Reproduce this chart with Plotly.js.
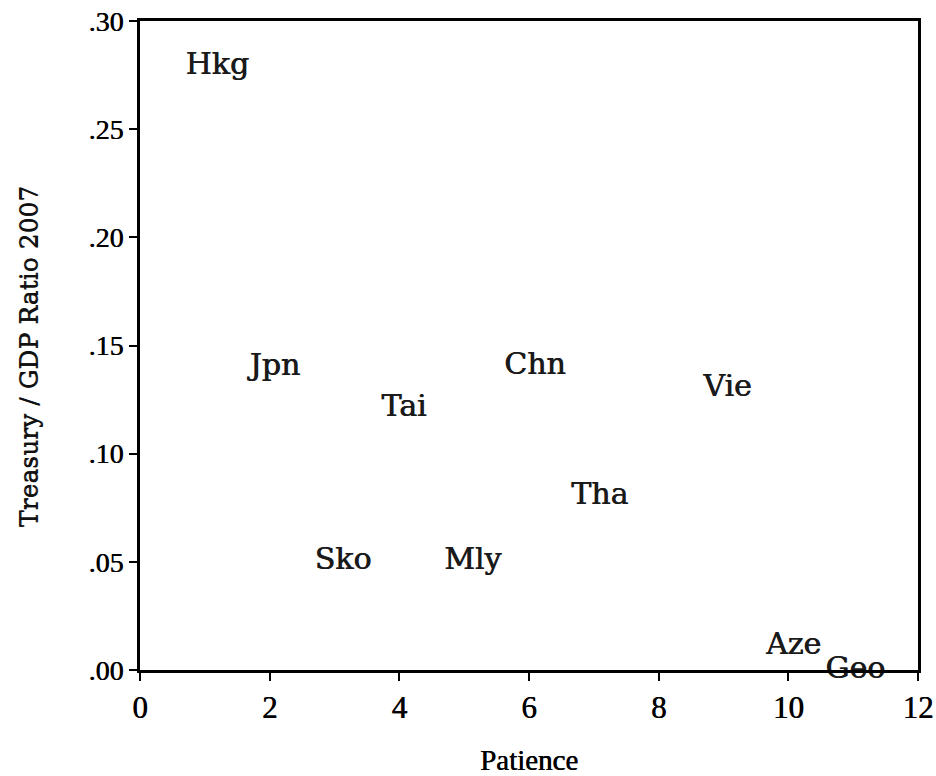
<!DOCTYPE html>
<html>
<head>
<meta charset="utf-8">
<script src="https://cdn.plot.ly/plotly-3.0.1.min.js"></script>
<style>html,body{margin:0;padding:0;background:#fff;}#chart{width:936px;height:776px;}</style>
</head>
<body>
<div id="chart"></div>
<script>
const countries = ["Hkg", "Jpn", "Tai", "Chn", "Vie", "Tha", "Sko", "Mly", "Aze", "Geo"];
const patience = [1.19, 2.08, 4.07, 6.09, 9.06, 7.09, 3.13, 5.13, 10.08, 11.03];
const treasuryGdp = [0.279, 0.140, 0.121, 0.1405, 0.130, 0.080, 0.050, 0.050, 0.011, 0.000];
const xTicks = [0, 2, 4, 6, 8, 10, 12];
const xTickLabels = ["0", "2", "4", "6", "8", "10", "12"];
const yTicks = [0, 0.05, 0.10, 0.15, 0.20, 0.25, 0.30];
const yTickLabels = [".00", ".05", ".10", ".15", ".20", ".25", ".30"];
const xTitle = "Patience";
const yTitle = "Treasury / GDP Ratio 2007";

const trace = {
  x: patience,
  y: treasuryGdp,
  text: countries,
  mode: "text",
  type: "scatter",
  textposition: "middle center",
  textfont: {family: "DejaVu Serif", size: 30, color: "#1a1a1a", shadow: "0.7px 0 0 #1a1a1a"},
  cliponaxis: false,
  hoverinfo: "none"
};

const layout = {
  width: 936,
  height: 776,
  margin: {l: 140, r: 18, t: 21, b: 106},
  paper_bgcolor: "#ffffff",
  plot_bgcolor: "#ffffff",
  showlegend: false,
  xaxis: {
    range: [0, 12],
    tickvals: xTicks,
    ticktext: xTickLabels,
    ticks: "outside",
    ticklen: 8,
    tickwidth: 2,
    tickcolor: "#000",
    showline: true,
    linewidth: 3,
    linecolor: "#000",
    mirror: true,
    showgrid: false,
    zeroline: false,
    tickfont: {family: "Liberation Serif", size: 31, color: "#000", shadow: "0.6px 0 0 #000"},
    title: {text: xTitle, font: {family: "Liberation Serif", size: 29, color: "#000", shadow: "0.6px 0 0 #000"}, standoff: 28}
  },
  yaxis: {
    range: [0, 0.30],
    tickvals: yTicks,
    ticktext: yTickLabels,
    ticks: "outside",
    ticklen: 8,
    tickwidth: 2,
    tickcolor: "#000",
    showline: true,
    linewidth: 3,
    linecolor: "#000",
    mirror: true,
    showgrid: false,
    zeroline: false,
    tickfont: {family: "Liberation Serif", size: 28, color: "#000", shadow: "0.6px 0 0 #000"}
  },
  annotations: [{
    text: yTitle,
    xref: "paper", yref: "paper",
    x: (28 - 140) / 778, y: (670 - 357) / 649,
    xanchor: "center", yanchor: "middle",
    textangle: -90,
    showarrow: false,
    font: {family: "DejaVu Serif", size: 25, color: "#111", shadow: "0 0.6px 0 #111"}
  }]
};

Plotly.newPlot("chart", [trace], layout, {displayModeBar: false, staticPlot: true});
</script>
</body>
</html>
